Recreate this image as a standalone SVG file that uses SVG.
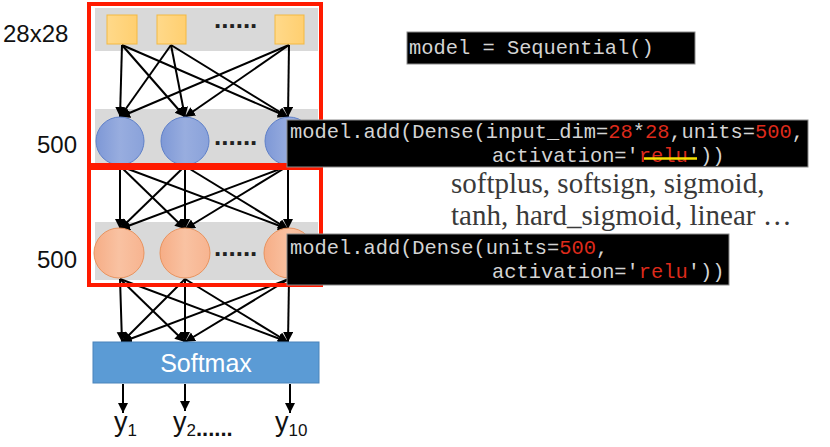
<svg xmlns="http://www.w3.org/2000/svg" width="830" height="447" viewBox="0 0 830 447">
<defs>
<linearGradient id="gSq" x1="0" y1="0" x2="1" y2="0"><stop offset="0" stop-color="#ffd98a"/><stop offset="1" stop-color="#ffcf70"/></linearGradient>
<linearGradient id="gBlue" x1="0" y1="0" x2="1" y2="0"><stop offset="0" stop-color="#7e98d6"/><stop offset="0.5" stop-color="#98addf"/><stop offset="1" stop-color="#8aa2da"/></linearGradient>
<linearGradient id="gOr" x1="0" y1="0" x2="1" y2="0"><stop offset="0" stop-color="#f6ad86"/><stop offset="0.5" stop-color="#f9c2a2"/><stop offset="1" stop-color="#f7b490"/></linearGradient>
<marker id="ah" markerUnits="userSpaceOnUse" markerWidth="12" markerHeight="12" refX="10" refY="5" orient="auto"><path d="M0,0 L10,5 L0,10 Z" fill="#000"/></marker>
</defs>
<style>
.band{fill:#d9d9d9}
.sq{fill:url(#gSq);stroke:#f4b942;stroke-width:1}
.cb{fill:url(#gBlue);stroke:#5f80c8;stroke-width:1}
.co{fill:url(#gOr);stroke:#e8935f;stroke-width:1}
.red{fill:none;stroke:#ff1a00;stroke-width:4}
.conn line{stroke:#000;stroke-width:2;marker-end:url(#ah)}
.lbl{font-family:"Liberation Sans",Arial,sans-serif;font-size:24px;fill:#111}
.dots{font-family:"Liberation Sans",Arial,sans-serif;font-size:26px;font-weight:bold;fill:#222}
.code{font-family:"Liberation Mono","Courier New",monospace;font-size:20.4px;fill:#d4d4d4}
.num{fill:#dd2a1b}
.cbox{fill:#000;stroke:#8a8a8a;stroke-width:1}
.serif{font-family:"Liberation Serif","Times New Roman",serif;font-size:29px;fill:#3a3a3a}
</style>
<rect width="830" height="447" fill="#fff"/>
<rect class="band" x="95" y="8" width="223" height="43"/>
<rect class="band" x="95" y="109" width="223" height="58"/>
<rect class="band" x="95" y="222" width="223" height="58"/>
<g id="connectors" class="conn">
<line x1="122" y1="45" x2="120" y2="117"/>
<line x1="122" y1="45" x2="185" y2="117"/>
<line x1="122" y1="45" x2="288" y2="117"/>
<line x1="171" y1="45" x2="120" y2="117"/>
<line x1="171" y1="45" x2="185" y2="117"/>
<line x1="171" y1="45" x2="288" y2="117"/>
<line x1="289" y1="45" x2="120" y2="117"/>
<line x1="289" y1="45" x2="185" y2="117"/>
<line x1="289" y1="45" x2="288" y2="117"/>
<line x1="120" y1="166" x2="120" y2="229"/>
<line x1="120" y1="166" x2="185" y2="229"/>
<line x1="120" y1="166" x2="288" y2="229"/>
<line x1="185" y1="166" x2="120" y2="229"/>
<line x1="185" y1="166" x2="185" y2="229"/>
<line x1="185" y1="166" x2="288" y2="229"/>
<line x1="288" y1="166" x2="120" y2="229"/>
<line x1="288" y1="166" x2="185" y2="229"/>
<line x1="288" y1="166" x2="288" y2="229"/>
<line x1="120" y1="279" x2="122" y2="342"/>
<line x1="120" y1="279" x2="185" y2="342"/>
<line x1="120" y1="279" x2="288" y2="342"/>
<line x1="185" y1="279" x2="122" y2="342"/>
<line x1="185" y1="279" x2="185" y2="342"/>
<line x1="185" y1="279" x2="288" y2="342"/>
<line x1="289" y1="279" x2="122" y2="342"/>
<line x1="289" y1="279" x2="185" y2="342"/>
<line x1="289" y1="279" x2="288" y2="342"/>
<line x1="123" y1="384" x2="123" y2="413"/>
<line x1="185" y1="384" x2="185" y2="411"/>
<line x1="290" y1="384" x2="290" y2="413"/>
</g>
<g id="input-layer">
<rect class="sq" x="107" y="15" width="30" height="29"/>
<rect class="sq" x="157" y="15" width="29" height="29"/>
<rect class="sq" x="275" y="15" width="29" height="29"/>
<text class="dots" x="214" y="28">......</text>
</g>
<g id="hidden-layer-1">
<circle class="cb" cx="120" cy="141" r="24"/>
<circle class="cb" cx="185" cy="141" r="24"/>
<circle class="cb" cx="289" cy="141" r="24"/>
<text class="dots" x="214" y="145">......</text>
</g>
<g id="hidden-layer-2">
<circle class="co" cx="119" cy="253" r="25"/>
<circle class="co" cx="185" cy="253" r="25"/>
<circle class="co" cx="289" cy="253" r="25"/>
<text class="dots" x="214" y="256">......</text>
</g>
<g id="frames">
<rect class="red" x="89" y="4" width="232" height="161"/>
<rect class="red" x="89" y="168" width="232" height="117"/>
</g>
<g id="softmax">
<rect x="93" y="342" width="226" height="41" fill="#5b9bd5" stroke="#4a84bb" stroke-width="1"/>
<text x="206" y="372" text-anchor="middle" font-family="Liberation Sans,Arial,sans-serif" font-size="25" fill="#fff">Softmax</text>
</g>
<g id="labels">
<text class="lbl" x="3" y="42" font-size="25">28x28</text>
<text class="lbl" x="37" y="153">500</text>
<text class="lbl" x="37" y="268">500</text>
</g>
<g id="outputs" font-family="Liberation Sans,Arial,sans-serif" fill="#111">
<text x="114" y="431" font-size="27">y<tspan font-size="17" dy="5">1</tspan></text>
<text x="173" y="431" font-size="27">y<tspan font-size="17" dy="5">2</tspan><tspan font-size="22" font-weight="bold" dy="0">......</tspan></text>
<text x="275" y="431" font-size="27">y<tspan font-size="17" dy="5">10</tspan></text>
</g>
<g id="code-sequential">
<rect class="cbox" x="407" y="32" width="288" height="32"/>
<text class="code" x="409" y="54" font-size="21.5">model = Sequential()</text>
</g>
<g id="code-dense1">
<rect class="cbox" x="287" y="120" width="521" height="47"/>
<text class="code" x="290" y="138">model.add(Dense(input_dim=<tspan class="num">28</tspan>*<tspan class="num">28</tspan>,units=<tspan class="num">500</tspan>,</text>
<text class="code" x="492" y="162">activation='<tspan class="num">relu</tspan>'))</text>
<line x1="644" y1="158.5" x2="697" y2="158.5" stroke="#f5e000" stroke-width="2.5"/>
</g>
<g id="activations">
<text class="serif" x="451" y="193">softplus, softsign, sigmoid,</text>
<text class="serif" x="451" y="225">tanh, hard_sigmoid, linear …</text>
</g>
<g id="code-dense2">
<rect class="cbox" x="287" y="234" width="442" height="51"/>
<text class="code" x="290" y="254">model.add(Dense(units=<tspan class="num">500</tspan>,</text>
<text class="code" x="492" y="278">activation='<tspan class="num">relu</tspan>'))</text>
</g>
</svg>
